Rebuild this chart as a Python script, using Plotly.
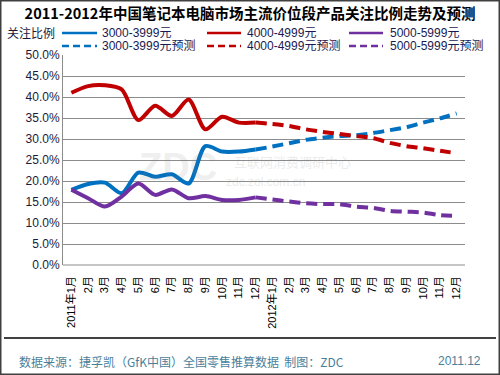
import plotly.graph_objects as go

month_labels = ["2011年1月", "2月", "3月", "4月", "5月", "6月", "7月", "8月", "9月", "10月", "11月", "12月",
                "2012年1月", "2月", "3月", "4月", "5月", "6月", "7月", "8月", "9月", "10月", "11月", "12月"]

# actual 2011 (index 0..11)
s3000 = [17.9, 19.3, 19.6, 17.1, 22.0, 21.0, 21.6, 19.4, 28.3, 27.0, 27.0, 27.5]
s4000 = [41.0, 42.6, 42.8, 41.8, 34.5, 37.9, 35.5, 39.4, 32.3, 35.3, 33.9, 33.9]
s5000 = [17.9, 15.9, 13.9, 16.3, 19.4, 16.7, 18.0, 15.9, 16.4, 15.5, 15.5, 16.1]

# forecast: Dec 2011 + 2012 (index 11..23)
f3000 = [27.5, 28.2, 29.0, 29.8, 30.3, 30.7, 30.9, 31.4, 32.1, 32.8, 33.9, 34.9, 36.1]
f4000 = [33.9, 33.6, 33.1, 32.3, 31.7, 31.2, 30.7, 30.2, 29.1, 28.3, 27.8, 27.2, 26.6]
f5000 = [16.1, 15.6, 15.1, 14.7, 14.5, 14.5, 13.9, 13.6, 12.9, 12.7, 12.5, 11.9, 11.7]

names = ["3000-3999元", "4000-4999元", "5000-5999元"]
colors = ["#0070C0", "#C00000", "#7030A0"]
DASH = "11px,6px"

x_act = list(range(0, 12))
x_fc = list(range(11, 24))

fig = go.Figure()
for n, c, ys in zip(names, colors, [s3000, s4000, s5000]):
    fig.add_trace(go.Scatter(x=x_act, y=ys, mode="lines", name=n,
                             line=dict(color=c, width=4, shape="spline", smoothing=0.8)))
for n, c, ys in zip(names, colors, [f3000, f4000, f5000]):
    fig.add_trace(go.Scatter(x=x_fc, y=ys, mode="lines", name=n + "预测",
                             line=dict(color=c, width=4, shape="spline", smoothing=0.8, dash=DASH)))

tick_vals = [i * 5 for i in range(11)]
tick_text = [f"{v:.1f}%" for v in tick_vals]

font_main = "Liberation Sans, Noto Sans CJK SC, sans-serif"

L, R, T, B = 63, 35, 55, 110
PW, PH = 500 - L - R, 375 - T - B

def px(x):
    return (x - L) / PW

def py(y):  # y measured from top of image
    return (375 - y - B) / PH

fig.update_layout(
    width=500, height=375,
    margin=dict(l=L, r=R, t=T, b=B, autoexpand=False),
    paper_bgcolor="white", plot_bgcolor="white",
    font=dict(family=font_main, size=11, color="#1a1a3a"),
    title=dict(text="<b>2011-2012年中国笔记本电脑市场主流价位段产品关注比例走势及预测</b>",
               x=0.5, xanchor="center", y=0.963, yanchor="middle",
               font=dict(family="Noto Sans CJK SC, sans-serif", size=14.5, color="#000000")),
    showlegend=False,
    xaxis=dict(range=[-0.5, 23.5], tickmode="array", tickvals=list(range(24)), ticktext=month_labels,
               tickangle=-90, showgrid=False, zeroline=False, showline=False, ticks="",
               ticklabelstandoff=8,
               tickfont=dict(family=font_main, size=11, color="#000000"), fixedrange=True,
               automargin=False),
    yaxis=dict(range=[0, 50], tickmode="array", tickvals=tick_vals, ticktext=tick_text,
               showgrid=True, gridcolor="#8c8c8c", gridwidth=1, zeroline=False,
               showline=True, linecolor="#8c8c8c", linewidth=1, ticks="",
               tickfont=dict(family=font_main, size=12, color="#1a1a3a"), fixedrange=True,
               automargin=False),
)

# bottom axis line
fig.add_shape(type="line", xref="paper", yref="paper", x0=0, x1=1, y0=0, y1=0,
              line=dict(color="#8c8c8c", width=1))

# outer border
fig.add_shape(type="rect", xref="paper", yref="paper", x0=px(0.5), x1=px(499.5),
              y0=py(374.5), y1=py(0.5), line=dict(color="#404040", width=2), layer="below")
# footer rule
fig.add_shape(type="line", xref="paper", yref="paper", x0=px(4), x1=px(496),
              y0=py(338), y1=py(338), line=dict(color="#000000", width=1.5))

# manual legend (3 columns x 2 rows)
leg_cols = [(62, 97, 100), (207, 241, 245), (349, 383, 388)]
leg_rows = [(33, None), (46, DASH)]
for (lx0, lx1, tx), n, c in zip(leg_cols, names, colors):
    for (ry, dash), suffix in zip(leg_rows, ["", "预测"]):
        ln = dict(color=c, width=2.5)
        if dash:
            ln["dash"] = "7px,4px"
        fig.add_shape(type="line", xref="paper", yref="paper", x0=px(lx0), x1=px(lx1),
                      y0=py(ry), y1=py(ry), line=ln)
        fig.add_annotation(text=n + suffix, xref="paper", yref="paper", x=px(tx), y=py(ry),
                           xanchor="left", yanchor="middle", showarrow=False,
                           font=dict(family=font_main, size=12, color="#1a1a50"))

annots = [
    dict(text="关注比例", x=5, y=33, xanchor="left", yanchor="middle",
         font=dict(family="Noto Sans CJK SC, sans-serif", size=12, color="#1a1a3a")),
    dict(text="数据来源：捷孚凯（GfK中国）全国零售推算数据  制图：ZDC", x=17, y=361,
         xanchor="left", yanchor="middle",
         font=dict(family="Noto Sans CJK SC, sans-serif", size=12, color="#4a7f9c")),
    dict(text="2011.12", x=483, y=361, xanchor="right", yanchor="middle",
         font=dict(family=font_main, size=12, color="#4a7f9c")),
    dict(text="<b>ZDC</b>", x=178, y=167, xanchor="center", yanchor="middle", opacity=0.12,
         font=dict(family=font_main, size=38, color="#808080")),
    dict(text="互联网消费调研中心", x=292, y=161, xanchor="center", yanchor="middle", opacity=0.15,
         font=dict(family="Noto Sans CJK SC, sans-serif", size=13, color="#808080")),
    dict(text="zdc.zol.com.cn", x=265, y=182, xanchor="center", yanchor="middle", opacity=0.15,
         font=dict(family=font_main, size=12, color="#808080")),
]
for a in annots:
    a.update(xref="paper", yref="paper", showarrow=False)
    a["x"] = px(a["x"])
    a["y"] = py(a["y"])
    fig.add_annotation(**a)

fig.write_html("out.html", config={"displayModeBar": False},
               post_script="document.body.style.margin='0';")
